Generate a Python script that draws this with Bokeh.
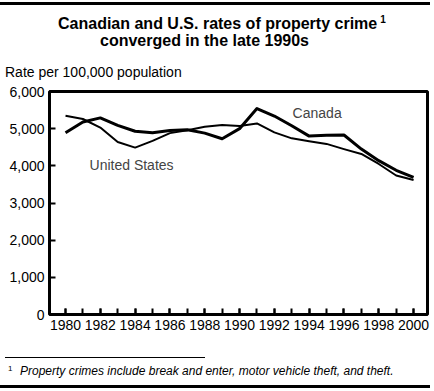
from bokeh.plotting import figure
from bokeh.layouts import column
from bokeh.models import Range1d, SingleIntervalTicker, NumeralTickFormatter, Label, Div
from bokeh.embed import file_html
from bokeh.resources import INLINE

# ---- data ----
years = list(range(1980, 2001))
canada = [4890, 5180, 5290, 5090, 4930, 4890, 4950, 4970, 4880, 4730, 5000,
          5540, 5340, 5080, 4800, 4820, 4830, 4450, 4140, 3880, 3690]
united_states = [5350, 5260, 5030, 4640, 4490, 4670, 4880, 4960, 5050, 5100, 5070,
                 5140, 4900, 4740, 4660, 4590, 4450, 4320, 4050, 3740, 3620]
series_names = ["Canada", "United States"]
title_line1 = "Canadian and U.S. rates of property crime"
title_line2 = "converged in the late 1990s"
y_axis_title = "Rate per 100,000 population"
footnote = "Property crimes include break and enter, motor vehicle theft, and theft."

FONT = "Liberation Sans"
W = 434
H_TOP, H_MAIN, H_BOT = 76, 257, 47


def box(left, top, width, height):
    return (f'<div style="position:absolute;left:{left}px;top:{top}px;width:{width}px;'
            f'height:{height}px;background:#000;"></div>')


def txt(left, top, size, content, weight="normal", style="normal"):
    return (f'<div style="position:absolute;left:{left}px;top:{top}px;white-space:nowrap;'
            f'font-family:\'{FONT}\';font-size:{size}px;line-height:{size}px;'
            f'font-weight:{weight};font-style:{style};color:#000;">{content}</div>')


def section(h, inner):
    return (f'<div style="position:relative;width:{W}px;height:{h}px;overflow:hidden;'
            f'background:#fff;margin:0;padding:0;">{inner}</div>')


def rule_div(top_margin):
    return Div(text='<div style="width:430px;height:3px;background:#000;"></div>',
               width=430, height=3, margin=(top_margin, 4, 0, 0),
               styles={"background-color": "#000", "overflow": "hidden"})


# ---- top: rule, title, unit label ----
rule_top = rule_div(2)
sup1 = '<span style="font-size:10px;vertical-align:6px;margin-left:3px;">1</span>'
top_html = section(H_TOP,
                   txt(58, 6.5, 16, title_line1 + sup1, weight="bold")
                   + txt(100, 27.5, 16, title_line2, weight="bold")
                   + txt(5, 60, 14, y_axis_title))
top = Div(text=top_html, width=W, height=H_TOP, margin=(0, 0, 0, 0))

# ---- main chart ----
p = figure(width=W, height=H_MAIN, x_range=Range1d(1979.08, 2000.80), y_range=Range1d(0, 6000),
           output_backend="svg", toolbar_location=None, title=None,
           min_border_left=49, min_border_right=7, min_border_top=10, min_border_bottom=24)
p.background_fill_color = "white"
p.border_fill_color = "white"
p.outline_line_color = "black"
p.outline_line_width = 3
p.xgrid.visible = False
p.ygrid.visible = False

xa = p.xaxis[0]
xa.ticker = SingleIntervalTicker(interval=2, num_minor_ticks=2)
ya = p.yaxis[0]
ya.ticker = SingleIntervalTicker(interval=1000, num_minor_ticks=0)
ya.formatter = NumeralTickFormatter(format="0,0")
for ax in (xa, ya):
    ax.axis_line_color = None
    ax.major_tick_in = 6
    ax.major_tick_out = 0
    ax.minor_tick_in = 6
    ax.minor_tick_out = 0
    ax.major_tick_line_color = "black"
    ax.minor_tick_line_color = "black"
    ax.major_tick_line_width = 2
    ax.minor_tick_line_width = 2
    ax.major_label_text_font = FONT
    ax.major_label_text_font_size = "14px"
    ax.major_label_text_color = "black"
ya.minor_tick_line_color = None
xa.major_label_standoff = 5
ya.major_label_standoff = 5

p.line(years, canada, line_width=3, line_color="black", line_join="round")
p.line(years, united_states, line_width=2, line_color="black", line_join="round")

p.add_layout(Label(x=1993.05, y=5410, text=series_names[0], text_font=FONT,
                   text_font_size="14px", text_baseline="middle", text_align="left"))
p.add_layout(Label(x=1981.38, y=4010, text=series_names[1], text_font=FONT,
                   text_font_size="14px", text_baseline="middle", text_align="left"))

# ---- bottom: footnote ----
bot_html = section(H_BOT,
                   box(5, 19, 200, 1)
                   + txt(8, 27, 8, "1")
                   + txt(20, 26.8, 12, footnote, style="italic"))
bot = Div(text=bot_html, width=W, height=H_BOT, margin=(0, 0, 0, 0))
rule_bot = rule_div(0)

layout = column(rule_top, top, p, bot, rule_bot, spacing=0)
open("out.html", "w").write(file_html(layout, INLINE))
